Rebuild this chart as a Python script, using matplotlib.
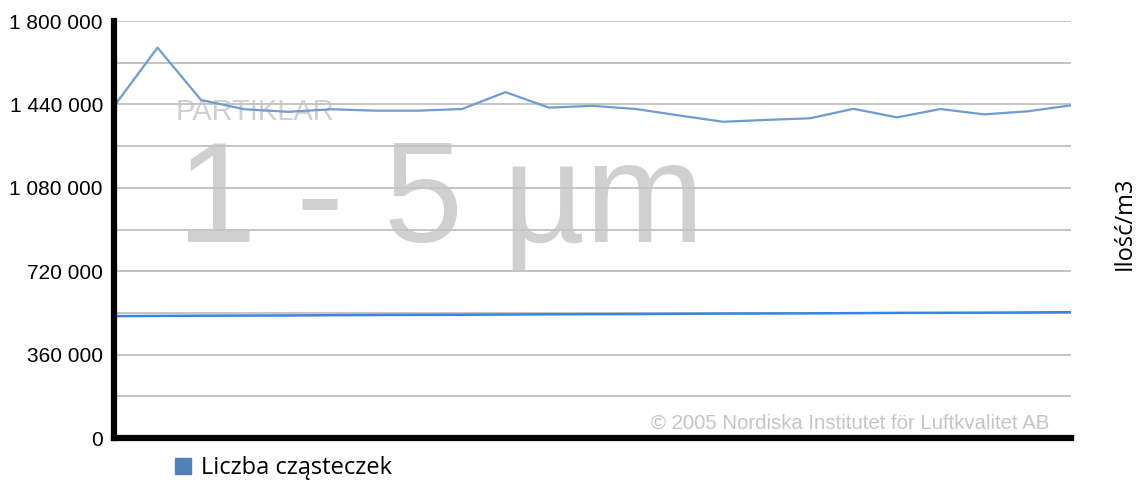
import numpy as np
import matplotlib.pyplot as plt
from matplotlib.patches import Patch
from matplotlib.ticker import FuncFormatter

# Data
points = list(range(23))
particles = [1432000, 1685000, 1459000, 1419000, 1408000, 1419000, 1413000,
             1413000, 1420000, 1493000, 1426000, 1434000, 1420000, 1392000,
             1365000, 1373000, 1380000, 1421000, 1384000, 1420000, 1397000,
             1410000, 1436000]
trend = [526000, 527000, 528000, 528500, 529000, 530000, 531000, 531500,
         532000, 533000, 534000, 534500, 535000, 536000, 537000, 537500,
         538000, 539000, 540000, 540500, 541000, 542000, 543000]
y_ticks = [0, 360000, 720000, 1080000, 1440000, 1800000]
y_grid = np.arange(0, 1800001, 180000)

plt.rcParams["font.family"] = ["Liberation Sans", "DejaVu Sans"]

fig = plt.figure(figsize=(11.38, 4.8), dpi=100)
ax = fig.add_axes([0.1002, 0.0875, 0.8409, 0.86875])

ax.plot(points, particles, color="#6f9bd1", linewidth=1.6, zorder=3)
ax.plot(points, trend, color="#3a84dc", linewidth=1.8, zorder=3)

ax.set_xlim(0, 22)
ax.set_ylim(0, 1800000)
ax.set_xticks([])
ax.set_yticks(y_ticks)
ax.set_yticks(y_grid, minor=True)
ax.yaxis.set_major_formatter(FuncFormatter(lambda v, p: f"{int(v):,}".replace(",", " ")))
ax.tick_params(axis="y", which="both", length=0, labelsize=15, pad=8)
ax.grid(axis="y", which="both", color="#c4c4c4", linewidth=1.4, zorder=0)

for side in ["top", "right"]:
    ax.spines[side].set_visible(False)
ax.spines["left"].set_linewidth(4.5)
ax.spines["bottom"].set_linewidth(4.5)
ax.spines["left"].set_zorder(4)
ax.spines["bottom"].set_zorder(4)

# Watermark texts
ax.text(0.064, 0.763, "PARTIKLAR", transform=ax.transAxes, fontsize=21,
        color="#d0d0d0", va="baseline", zorder=1)
ax.text(0.066, 0.471, "1 - 5 µm", transform=ax.transAxes, fontsize=103,
        color="#d0d0d0", va="baseline", zorder=1)
ax.text(0.977, 0.035, "© 2005 Nordiska Institutet för Luftkvalitet AB",
        transform=ax.transAxes, fontsize=14.7, color="#c4c4c4",
        ha="right", va="center", zorder=1)

fig.text(0.988, 0.535, "Ilość/m3", rotation=90, fontsize=17,
         family=["Open Sans", "DejaVu Sans"], ha="center", va="center")

handle = Patch(facecolor="#4f81bd", edgecolor="#4f81bd")
fig.legend([handle], ["Liczba cząsteczek"], loc="center left",
           bbox_to_anchor=(0.1353, 0.025), frameon=False,
           prop={"family": ["Open Sans", "DejaVu Sans"], "size": 17},
           handlelength=0.65, handleheight=0.65, handletextpad=0.45)

fig.savefig("out.png", dpi=100)
